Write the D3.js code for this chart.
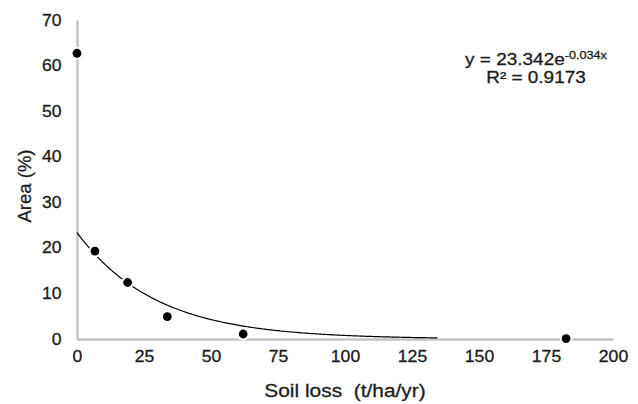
<!DOCTYPE html>
<html>
<head>
<meta charset="utf-8">
<script src="https://cdn.jsdelivr.net/npm/d3@7"></script>
<style>
  body { margin: 0; background: #fff; }
  text { font-family: "Liberation Sans", Arial, sans-serif; fill: #1c1c1c; stroke: #1c1c1c; stroke-width: 0.3px; }
</style>
</head>
<body>
<div class="container"></div>
<script>
// chart data
var soilLoss = [0, 6.7, 18.9, 33.7, 62, 182.5];
var areaPct = [62.7, 19.3, 12.4, 4.9, 1.1, 0.1];
var xTicks = [0, 25, 50, 75, 100, 125, 150, 175, 200];
var yTicks = [0, 10, 20, 30, 40, 50, 60, 70];
// exponential trendline as printed on the chart
var trendCoef = [23.342, -0.034];
var trendRange = [0, 134.5];

var W = 638, H = 404;
var margin = { top: 20, right: 25, bottom: 65, left: 77 };
var stretch = 1.1; // text in the picture is a bit wide

var svg = d3.select(".container").append("svg")
  .attr("width", W)
  .attr("height", H);

var x = d3.scaleLinear().domain([0, 200]).range([margin.left, W - margin.right]);
var y = d3.scaleLinear().domain([0, 70]).range([H - margin.bottom, margin.top]);

//axes
var xAxis = svg.append("g")
  .attr("transform", "translate(0," + y(0) + ")")
  .call(d3.axisBottom(x).tickValues(xTicks).tickSize(0).tickPadding(12));
var yAxis = svg.append("g")
  .attr("transform", "translate(" + x(0) + ",0)")
  .call(d3.axisLeft(y).tickValues(yTicks).tickSize(0).tickPadding(14));

[xAxis, yAxis].forEach(function (a) {
  a.select(".domain").attr("stroke", "#c4c4c4").attr("stroke-width", 2.5);
  a.selectAll("text")
    .style("font-size", "16px")
    .attr("fill", "#1c1c1c")
    .attr("transform", "scale(" + stretch + ",1)");
});

//trendline
var trendData = d3.range(trendRange[0], trendRange[1] + 0.5, 0.5).map(function (v) {
  return [v, trendCoef[0] * Math.exp(trendCoef[1] * v)];
});
svg.append("path")
  .datum(trendData)
  .attr("fill", "none")
  .attr("stroke", "#000")
  .attr("stroke-width", 1.2)
  .attr("d", d3.line().x(function (d) { return x(d[0]); }).y(function (d) { return y(d[1]); }));

//points, white halo then black dot
var pts = svg.selectAll("g.pt")
  .data(soilLoss)
  .enter().append("g")
  .attr("class", "pt")
  .attr("transform", function (d, i) { return "translate(" + x(d) + "," + y(areaPct[i]) + ")"; });
pts.append("circle").attr("r", 6.3).attr("fill", "#fff");
pts.append("circle").attr("r", 4.4).attr("fill", "#000");

//axis titles
svg.append("text")
  .attr("transform", "translate(" + (x(0) + x(200)) / 2 + ",397) scale(" + stretch + ",1)")
  .attr("text-anchor", "middle")
  .style("font-size", "19px")
  .style("white-space", "pre")
  .text("Soil loss  (t/ha/yr)");

svg.append("text")
  .attr("transform", "translate(31,186) rotate(-90)")
  .attr("text-anchor", "middle")
  .style("font-size", "18.5px")
  .text("Area (%)");

//equation
var eq = svg.append("text")
  .attr("transform", "translate(536,65) scale(1.15,1)")
  .attr("text-anchor", "middle")
  .style("font-size", "16.5px");
eq.append("tspan").text("y = 23.342e");
eq.append("tspan").attr("dy", -6).style("font-size", "11px").text("-0.034x");

svg.append("text")
  .attr("transform", "translate(536,83) scale(1.15,1)")
  .attr("text-anchor", "middle")
  .style("font-size", "16.5px")
  .text("R² = 0.9173");
</script>
</body>
</html>
